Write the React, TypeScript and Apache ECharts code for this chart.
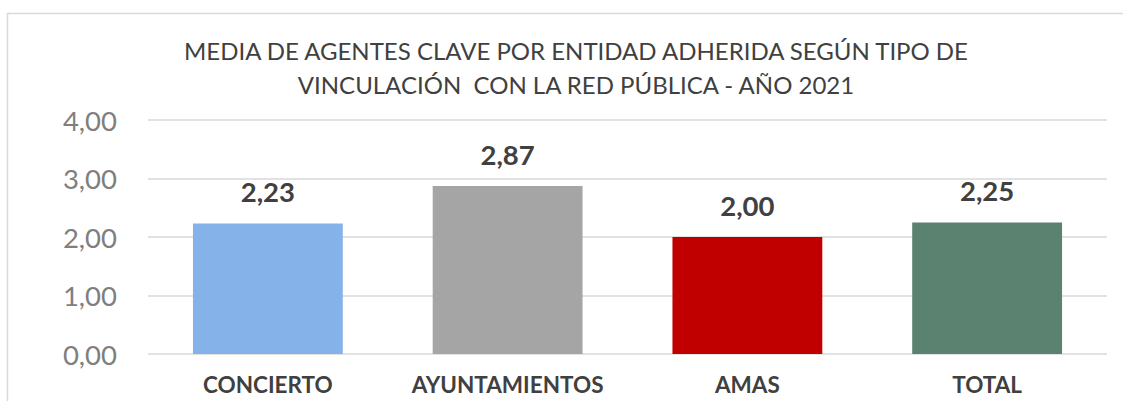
import React, { useEffect, useRef } from "react";
import * as echarts from "echarts";

const titleLines = [
  "MEDIA DE AGENTES CLAVE POR ENTIDAD ADHERIDA SEGÚN TIPO DE",
  "VINCULACIÓN  CON LA RED PÚBLICA - AÑO 2021",
];
const categories = ["CONCIERTO", "AYUNTAMIENTOS", "AMAS", "TOTAL"];
const values = [2.23, 2.87, 2.0, 2.25];
const barColors = ["#86B2EA", "#A5A5A5", "#C00000", "#5B8270"];
const yTicks = { min: 0, max: 4, interval: 1 };

const fmt = (v: number) => v.toFixed(2).replace(".", ",");

export default function App() {
  const ref = useRef<HTMLDivElement>(null);
  useEffect(() => {
    document.body.style.margin = "0";
    const chart = echarts.init(ref.current!, undefined, { renderer: "svg" });
    const font = "Lato, 'Open Sans', sans-serif";
    chart.setOption({
      animation: false,
      textStyle: { fontFamily: font },
      title: {
        text: titleLines.join("\n"),
        left: 571,
        textAlign: "center",
        top: 28,
        textStyle: {
          fontFamily: font,
          fontSize: 24,
          fontWeight: "normal",
          color: "#404040",
          lineHeight: 34,
        },
      },
      graphic: [
        {
          type: "rect",
          shape: { x: 7.5, y: 13.5, width: 1200, height: 500 },
          style: { fill: "none", stroke: "#D9D9D9", lineWidth: 1.5 },
          silent: true,
        },
      ],
      grid: { left: 148, right: 16, top: 120, bottom: 47 },
      xAxis: {
        type: "category",
        data: categories,
        axisLine: { show: false },
        axisTick: { show: false },
        axisLabel: {
          interval: 0,
          hideOverlap: false,
          margin: 19,
          fontFamily: font,
          fontSize: 22.5,
          fontWeight: "bold",
          color: "#404040",
        },
      },
      yAxis: {
        type: "value",
        min: yTicks.min,
        max: yTicks.max,
        interval: yTicks.interval,
        axisLine: { show: false },
        axisTick: { show: false },
        splitLine: { lineStyle: { color: "#D9D9D9", width: 1.5 } },
        axisLabel: {
          margin: 31,
          fontFamily: font,
          fontSize: 27.5,
          color: "#7F7F7F",
          formatter: (v: number) => fmt(v),
        },
      },
      series: [
        {
          type: "bar",
          barWidth: "62.5%",
          data: values.map((v, i) => ({ value: v, itemStyle: { color: barColors[i] } })),
          label: {
            show: true,
            position: "top",
            distance: 18,
            fontFamily: font,
            fontSize: 27.5,
            fontWeight: "bold",
            color: "#404040",
            formatter: (p: any) => fmt(p.value),
          },
        },
      ],
    });
    return () => chart.dispose();
  }, []);
  return <div ref={ref} style={{ width: 1123, height: 401 }} />;
}
